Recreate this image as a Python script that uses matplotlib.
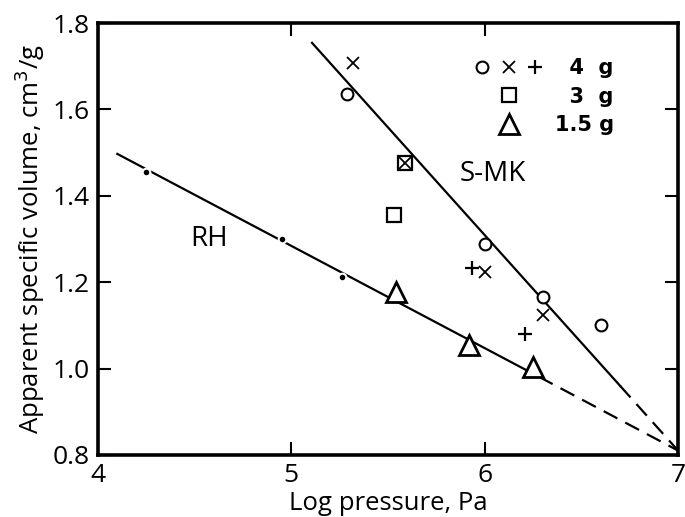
import matplotlib.pyplot as plt
from matplotlib.legend_handler import HandlerTuple

plt.rcParams['font.family'] = ['Open Sans', 'DejaVu Sans']

# RH: reference points and fitted line (solid part, then extrapolated dashes)
rh_dot_x = [4.25, 4.95, 5.26]
rh_dot_y = [1.455, 1.30, 1.212]
rh_line_x = [4.10, 6.28]
rh_line_y = [1.497, 0.981]
rh_ext_x = [6.28, 7.0]
rh_ext_y = [0.981, 0.810]

# S-MK fitted line
smk_line_x = [5.107, 6.70]
smk_line_y = [1.754, 0.960]
smk_ext_x = [6.70, 7.0]
smk_ext_y = [0.960, 0.810]

# measured points, by sample mass
circ_x = [5.29, 6.00, 6.30, 6.60]
circ_y = [1.636, 1.288, 1.166, 1.100]
cross_x = [5.32, 5.59, 6.00, 6.30]
cross_y = [1.707, 1.476, 1.224, 1.124]
plus_x = [5.935, 6.21]
plus_y = [1.233, 1.080]
sq_x = [5.53, 5.59]
sq_y = [1.356, 1.476]
tri_x = [5.54, 5.92, 6.25]
tri_y = [1.177, 1.055, 1.004]

x_ticks = [4, 5, 6, 7]
y_ticks = [0.8, 1.0, 1.2, 1.4, 1.6, 1.8]

fig = plt.figure(figsize=(6.85, 5.17), dpi=100)
ax = fig.add_axes([0.143, 0.120, 0.847, 0.8355])

lw = 1.6
ax.plot(rh_line_x, rh_line_y, color='black', lw=lw)
ax.plot(rh_ext_x, rh_ext_y, color='black', lw=lw, dashes=(7, 4))
ax.plot(smk_line_x, smk_line_y, color='black', lw=lw)
ax.plot(smk_ext_x, smk_ext_y, color='black', lw=lw, dashes=(7, 4))

ax.plot(rh_dot_x, rh_dot_y, 'o', color='black', ms=5.5, mec='white', mew=1.5)

h_c, = ax.plot(circ_x, circ_y, 'o', mfc='white', mec='black', ms=8.5, mew=1.5, ls='none')
h_x, = ax.plot(cross_x, cross_y, 'x', color='black', ms=8.5, mew=1.3, ls='none')
h_p, = ax.plot(plus_x, plus_y, '+', color='black', ms=10, mew=1.6, ls='none')
h_s, = ax.plot(sq_x, sq_y, 's', mfc='none', mec='black', ms=9.5, mew=1.6, ls='none')
h_t, = ax.plot(tri_x, tri_y, '^', mfc='white', mec='black', ms=14, mew=2.0, ls='none')

ax.text(6.043, 1.45, 'S-MK', fontsize=20, ha='center', va='center')
ax.text(4.575, 1.30, 'RH', fontsize=20, ha='center', va='center')

leg = ax.legend([(h_c, h_x, h_p), h_s, h_t], ['  4  g', '  3  g', '1.5 g'],
                handler_map={tuple: HandlerTuple(ndivide=None, pad=0)},
                loc='upper left', bbox_to_anchor=(0.64, 0.918),
                frameon=False, handlelength=3.8, handletextpad=0.3,
                labelspacing=0.4, borderpad=0, borderaxespad=0,
                prop={'family': 'DejaVu Sans', 'weight': 'bold', 'size': 15})

ax.set_xlim(4, 7)
ax.set_ylim(0.8, 1.8)
ax.set_xticks(x_ticks)
ax.set_yticks(y_ticks)
ax.set_yticklabels([f'{v:.1f}' for v in y_ticks])
ax.tick_params(direction='in', length=9.5, width=1.5, top=True, right=True,
               labelsize=19, pad=6)
for s in ax.spines.values():
    s.set_linewidth(2.6)

ax.set_xlabel('Log pressure, Pa', fontsize=18.5, labelpad=2)
ax.set_ylabel('Apparent specific volume, cm$^3$/g', fontsize=18.5, labelpad=4)

fig.savefig('out.png', dpi=100)
